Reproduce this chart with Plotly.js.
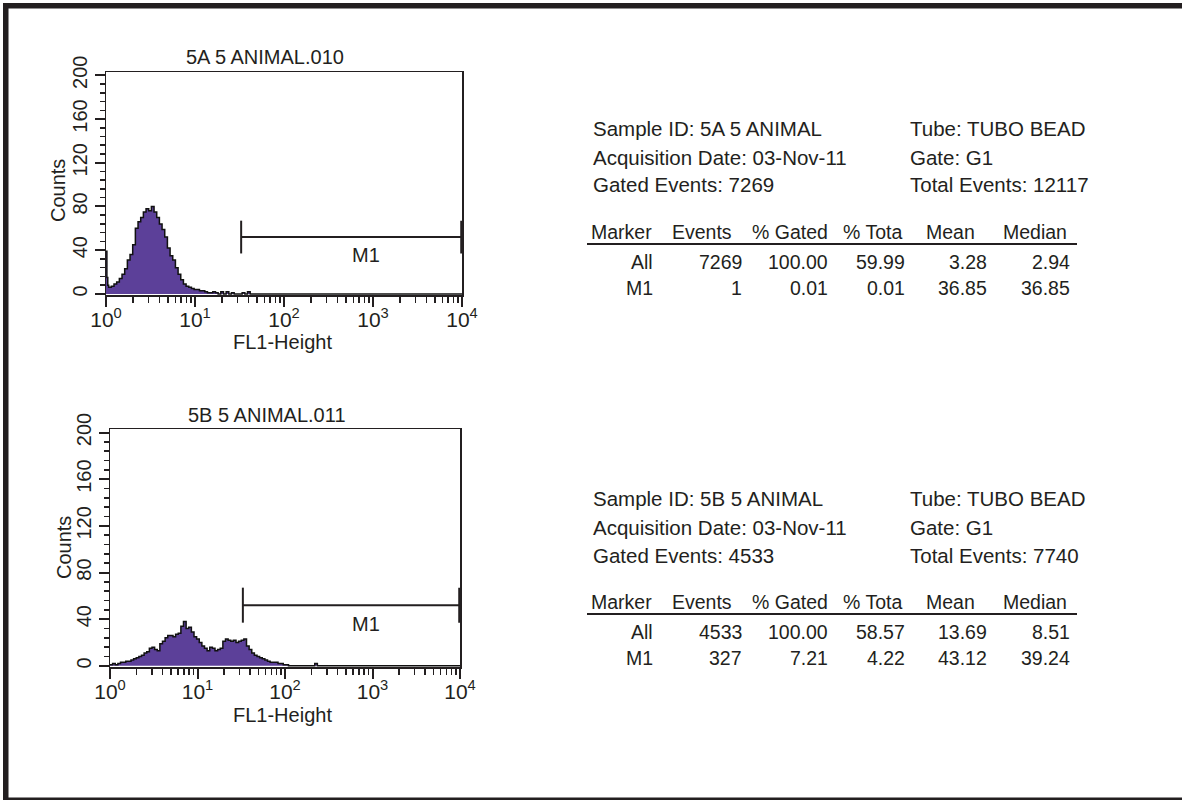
<!DOCTYPE html>
<html>
<head>
<meta charset="utf-8">
<script src="https://cdn.plot.ly/plotly-3.0.1.min.js"></script>
<style>
  html, body { margin: 0; padding: 0; background: #fff; }
  #chart { width: 1182px; height: 800px; }
</style>
</head>
<body>
<div id="chart"></div>
<script>
// ---------------- DATA ----------------
// Histogram A (5A 5 ANIMAL.010): FL1 channel position in decades (log10) and counts
const histALog = [0,0.01,0.02,0.03,0.06,0.09,0.12,0.15,0.18,0.21,0.24,0.27,0.30,0.33,0.36,0.39,0.42,0.45,0.48,0.51,0.54,0.57,0.60,0.63,0.66,0.69,0.72,0.75,0.78,0.81,0.84,0.87,0.90,0.93,0.96,0.99,1.02,1.05,1.08,1.11,1.14,1.17,1.20,1.23,1.26,1.29,1.32,1.35,1.38,1.41,1.44,1.47,1.50,1.53,1.56,1.59,1.62,4.00];
const histACounts = [39,15,8,6,7,9,11,14,18,23,31,36,45,60,66,70,75,78,76,80,75,70,64,59,52,42,35,31,24,18,13,9,7,6,5,4,4,3,3,2,1,1,2,1,0,2,0,2,0,1,0,0,0,1,0,2,0,0];

// Histogram B (5B 5 ANIMAL.011)
const histBLog = [0,0.03,0.06,0.09,0.12,0.15,0.18,0.21,0.24,0.27,0.30,0.33,0.36,0.39,0.42,0.45,0.48,0.51,0.54,0.57,0.60,0.63,0.66,0.69,0.72,0.75,0.78,0.81,0.84,0.87,0.90,0.93,0.96,0.99,1.02,1.05,1.08,1.11,1.14,1.17,1.20,1.23,1.26,1.29,1.32,1.35,1.38,1.41,1.44,1.47,1.50,1.53,1.56,1.59,1.62,1.65,1.68,1.71,1.74,1.77,1.80,1.83,1.86,1.89,1.92,1.95,1.98,2.01,2.04,2.34,2.37,4.00];
const histBCounts = [1,2,1,2,3,3,4,4,5,6,7,8,9,11,12,15,16,14,13,19,21,24,26,26,25,27,28,34,38,32,33,29,25,23,20,17,15,13,16,15,13,14,15,21,23,22,21,22,20,21,22,23,17,14,11,9,8,7,6,5,4,3,3,3,2,2,1,1,0,2,0,0];

// M1 marker gate (FL1 range) and its drawing height in counts
const m1Range = [33, 9800];
const m1Level = [52, 37, 67];   // bar level, cap bottom, cap top
const m1LabelPos = [2.92, 36];   // log10 x, counts

// Axis ticks
const xTickVals = [1, 10, 100, 1000, 10000];
const xTickText = ['10<sup>0</sup>','10<sup>1</sup>','10<sup>2</sup>','10<sup>3</sup>','10<sup>4</sup>'];
const yTickVals = [0, 40, 80, 120, 160, 200];

// Titles
const plotTitles = ['5A 5 ANIMAL.010', '5B 5 ANIMAL.011'];
const xTitle = 'FL1-Height';
const yTitle = 'Counts';

// Statistics text
const infoLeftA = ['Sample ID: 5A 5 ANIMAL', 'Acquisition Date: 03-Nov-11', 'Gated Events: 7269'];
const infoRightA = ['Tube: TUBO BEAD', 'Gate: G1', 'Total Events: 12117'];
const infoLeftB = ['Sample ID: 5B 5 ANIMAL', 'Acquisition Date: 03-Nov-11', 'Gated Events: 4533'];
const infoRightB = ['Tube: TUBO BEAD', 'Gate: G1', 'Total Events: 7740'];
const tableHeader = ['Marker', 'Events', '% Gated', '% Tota', 'Mean', 'Median'];
const rowsA = [['All','7269','100.00','59.99','3.28','2.94'], ['M1','1','0.01','0.01','36.85','36.85']];
const rowsB = [['All','4533','100.00','58.57','13.69','8.51'], ['M1','327','7.21','4.22','43.12','39.24']];

// ---------------- STYLE / LAYOUT ----------------
const W = 1182, H = 800;
const INK = '#231f20';
const FILL = '#5c4099';
const chartFamily = "'Liberation Sans', Arial, Helvetica, sans-serif";
const sans = "'Liberation Sans', Arial, Helvetica, sans-serif";
const px = x => x / W;
const py = y => 1 - y / H;

const minorX = [];
[1, 10, 100, 1000].forEach(d => { for (let k = 2; k <= 9; k++) minorX.push(d * k); });

function xAxis(domain, anchor) {
  return {
    type: 'log', range: [0, 4], domain: domain, anchor: anchor,
    showline: true, mirror: true, linecolor: INK, linewidth: 1.5,
    showgrid: false, zeroline: false,
    ticks: 'outside', ticklen: 10, tickwidth: 2, tickcolor: INK,
    tickmode: 'array', tickvals: xTickVals, ticktext: xTickText,
    ticklabelstandoff: -5,
    tickfont: { family: chartFamily, size: 21, color: INK },
    minor: { tickmode: 'array', tickvals: minorX, ticks: 'outside', ticklen: 6, tickwidth: 1.5, tickcolor: INK, showgrid: false },
    fixedrange: true
  };
}
function yAxis(domain, anchor) {
  return {
    range: [-1, 203], domain: domain, anchor: anchor,
    showline: true, mirror: true, linecolor: INK, linewidth: 1.5,
    showgrid: false, zeroline: false,
    ticks: 'outside', ticklen: 10, tickwidth: 2, tickcolor: INK,
    tickmode: 'array', tickvals: yTickVals, tickangle: -90,
    tickfont: { family: chartFamily, size: 20, color: INK },
    minor: { dtick: 8, ticks: 'outside', ticklen: 5, tickwidth: 1.5, tickcolor: INK, showgrid: false },
    fixedrange: true
  };
}

function histTrace(logs, counts, xa, ya) {
  return {
    type: 'scatter', mode: 'lines', xaxis: xa, yaxis: ya,
    x: logs.map(v => Math.pow(10, v)), y: counts,
    line: { shape: 'hv', color: '#111', width: 1.5 },
    fill: 'tozeroy', fillcolor: FILL, hoverinfo: 'skip'
  };
}
function markerTrace(xa, ya) {
  const lo = m1Range[0], hi = m1Range[1];
  return {
    type: 'scatter', mode: 'lines', xaxis: xa, yaxis: ya, cliponaxis: false,
    x: [lo, hi, null, lo, lo, null, hi, hi],
    y: [m1Level[0], m1Level[0], null, m1Level[1], m1Level[2], null, m1Level[1], m1Level[2]],
    line: { color: INK, width: 2 }, hoverinfo: 'skip'
  };
}

const data = [
  histTrace(histALog, histACounts, 'x', 'y'),
  markerTrace('x', 'y'),
  histTrace(histBLog, histBCounts, 'x2', 'y2'),
  markerTrace('x2', 'y2')
];

const annotations = [];
function addText(text, x, y, anchor, font, extra) {
  annotations.push(Object.assign({
    text: text, xref: 'paper', yref: 'paper', x: px(x), y: py(y),
    xanchor: anchor, yanchor: 'middle', showarrow: false, font: font
  }, extra || {}));
}
const chartFont = { family: chartFamily, size: 20, color: INK };
const infoFont = { family: sans, size: 20.5, color: INK };
const tableFont = { family: sans, size: 19.5, color: INK };

// Chart titles and axis titles
addText(plotTitles[0], 265, 57, 'center', chartFont);
addText(plotTitles[1], 267, 415, 'center', chartFont);
addText(xTitle, 282, 342, 'center', chartFont);
addText(xTitle, 282, 715, 'center', chartFont);
addText(yTitle, 58, 190, 'center', chartFont, { textangle: -90 });
addText(yTitle, 64, 548, 'center', chartFont, { textangle: -90 });

// M1 labels (data coordinates)
[['x', 'y'], ['x2', 'y2']].forEach(([xa, ya]) => {
  annotations.push({ text: 'M1', xref: xa, yref: ya, x: m1LabelPos[0], y: m1LabelPos[1],
    xanchor: 'center', yanchor: 'middle', showarrow: false, font: chartFont });
});

// Stats panels
const headerCenters = [621, 702, 790, 872, 950, 1035];
const cellRights = [655, 744, 830, 907, 989, 1072];
function addPanel(infoL, infoR, rows, y0) {
  const lineYs = [y0, y0 + 29, y0 + 57];
  infoL.forEach((t, i) => addText(t, 591, lineYs[i], 'left', infoFont));
  infoR.forEach((t, i) => addText(t, 908, lineYs[i], 'left', infoFont));
  tableHeader.forEach((t, i) => addText(t, headerCenters[i], y0 + 104, 'center', tableFont));
  rows.forEach((r, ri) => r.forEach((t, ci) => addText(t, cellRights[ci], y0 + 134 + ri * 26, 'right', tableFont)));
}
addPanel(infoLeftA, infoRightA, rowsA, 128);
addPanel(infoLeftB, infoRightB, rowsB, 498);

const shapes = [
  // page border
  { type: 'rect', xref: 'paper', yref: 'paper', x0: px(3), x1: px(W), y0: py(8.5), y1: py(3), fillcolor: INK, line: { width: 0 } },
  { type: 'rect', xref: 'paper', yref: 'paper', x0: px(3), x1: px(8.5), y0: py(800), y1: py(3), fillcolor: INK, line: { width: 0 } },
  { type: 'rect', xref: 'paper', yref: 'paper', x0: px(3), x1: px(W), y0: py(800), y1: py(797.5), fillcolor: INK, line: { width: 0 } },
  // table header underlines
  { type: 'line', xref: 'paper', yref: 'paper', x0: px(587), x1: px(1077), y0: py(244), y1: py(244), line: { color: INK, width: 2 } },
  { type: 'line', xref: 'paper', yref: 'paper', x0: px(587), x1: px(1077), y0: py(614), y1: py(614), line: { color: INK, width: 2 } }
];

const layout = {
  width: W, height: H,
  margin: { l: 0, r: 0, t: 0, b: 0 },
  paper_bgcolor: '#ffffff', plot_bgcolor: '#ffffff',
  showlegend: false,
  xaxis: xAxis([px(106), px(462)], 'y'),
  yaxis: yAxis([py(295), py(72)], 'x'),
  xaxis2: xAxis([px(110), px(460)], 'y2'),
  yaxis2: yAxis([py(667), py(429)], 'x2'),
  annotations: annotations,
  shapes: shapes
};

Plotly.newPlot('chart', data, layout, { staticPlot: true, displayModeBar: false });
</script>
</body>
</html>
